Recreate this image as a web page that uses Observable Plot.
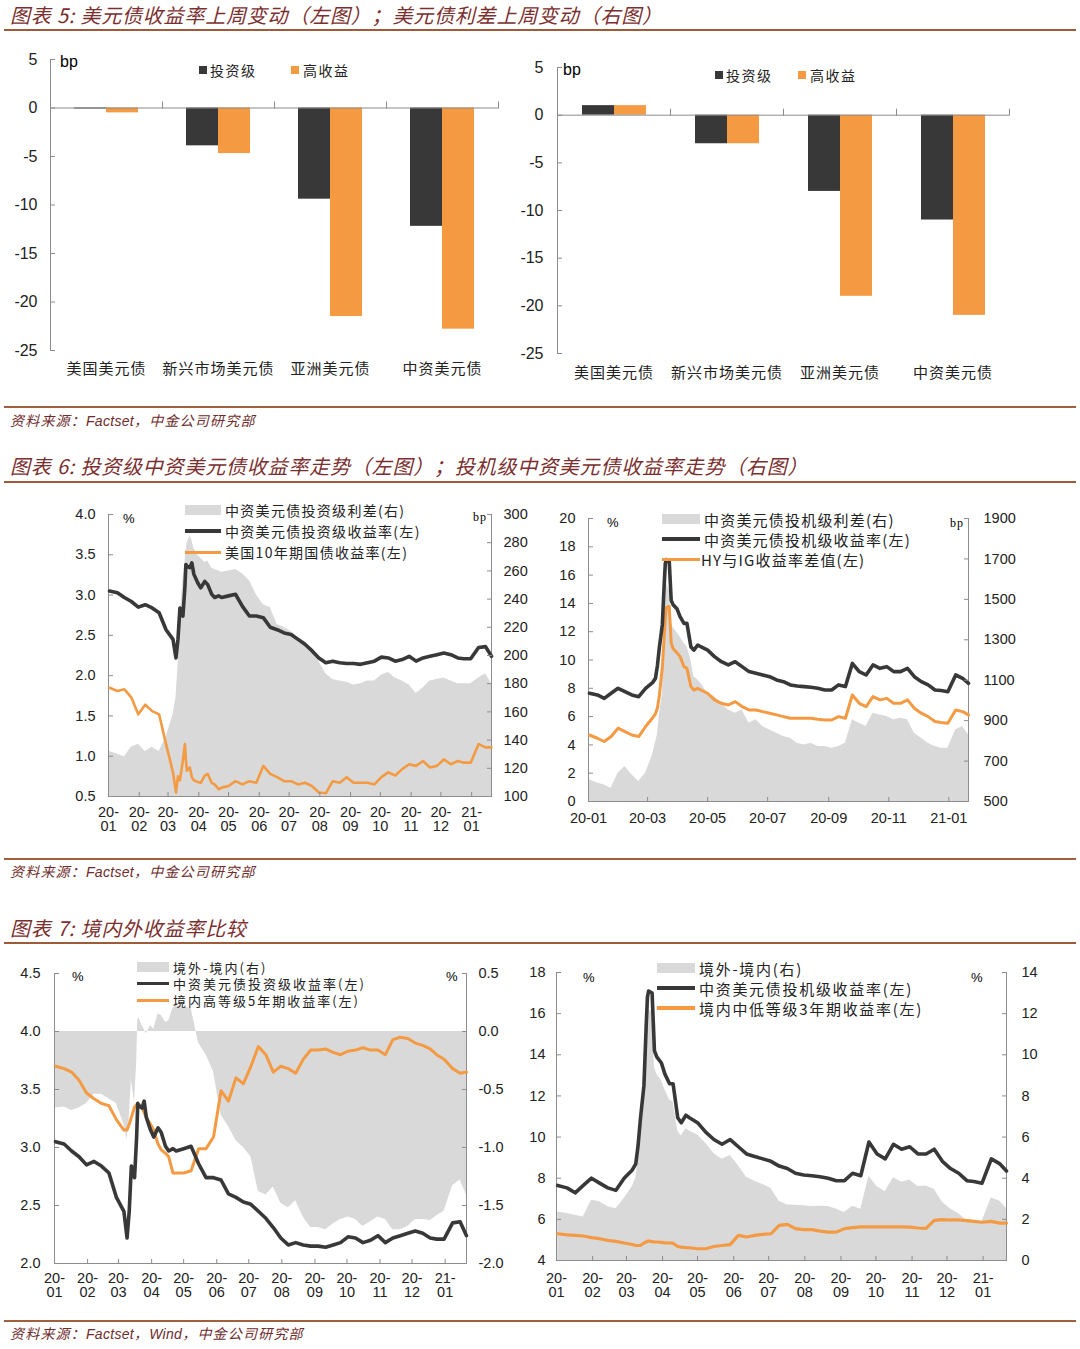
<!DOCTYPE html>
<html><head><meta charset="utf-8">
<script src="https://cdn.jsdelivr.net/npm/d3@7"></script>
<script src="https://cdn.jsdelivr.net/npm/@observablehq/plot@0.6"></script>
<style>
html,body{margin:0;padding:0;background:#fff}
#page{position:relative;width:1080px;height:1349px;overflow:hidden;font-family:"Liberation Sans",Arial,sans-serif}
.a{position:absolute;white-space:nowrap;line-height:1}
.hdr{font-family:"Noto Sans CJK SC",sans-serif;font-style:italic;color:#7b2f2f;letter-spacing:0.8px}
.src{font-family:"Noto Sans CJK SC",sans-serif;font-style:italic;color:#6e2c2c;letter-spacing:1.2px}
.lat{font-family:"Liberation Sans",Arial,sans-serif;font-style:italic;letter-spacing:0.3px}
.lg{font-family:"Noto Sans CJK SC",sans-serif;color:#222}
svg [aria-label="fx-axis tick label"] text{letter-spacing:1px}
</style></head><body><div id="page"></div>
<script>
// ---------- data ----------
const cats = ["美国美元债", "新兴市场美元债", "亚洲美元债", "中资美元债"];
const seriesNames = ["投资级", "高收益"];
const yieldChgIG = [-0.1, -3.9, -9.4, -12.2];
const yieldChgHY = [-0.5, -4.7, -21.5, -22.8];
const spreadChgIG = [1, -3, -8, -11];
const spreadChgHY = [1, -3, -19, -21];
const barTicks = [5, 0, -5, -10, -15, -20, -25];

const dates = ["2020-01-02","2020-01-10","2020-01-17","2020-01-24","2020-01-31","2020-02-07","2020-02-14","2020-02-21","2020-02-28","2020-03-06","2020-03-09","2020-03-11","2020-03-13","2020-03-16","2020-03-18","2020-03-19","2020-03-20","2020-03-23","2020-03-25","2020-03-27","2020-03-31","2020-04-03","2020-04-07","2020-04-10","2020-04-14","2020-04-17","2020-04-21","2020-04-24","2020-05-01","2020-05-08","2020-05-15","2020-05-22","2020-05-29","2020-06-05","2020-06-12","2020-06-19","2020-06-26","2020-07-03","2020-07-10","2020-07-17","2020-07-24","2020-07-31","2020-08-07","2020-08-14","2020-08-21","2020-08-28","2020-09-04","2020-09-11","2020-09-18","2020-09-25","2020-10-02","2020-10-09","2020-10-16","2020-10-23","2020-10-30","2020-11-06","2020-11-13","2020-11-20","2020-11-27","2020-12-04","2020-12-11","2020-12-18","2020-12-24","2020-12-31","2021-01-08","2021-01-15","2021-01-21"];

// 中资美元债投资级收益率 (%)
const igYield = [3.05,3.03,2.97,2.92,2.85,2.88,2.84,2.78,2.57,2.45, 2.22,2.45,2.84,2.74,3.10,3.38,3.36,3.34,3.40,3.26, 3.15,3.09,3.17,3.13,3.01,2.97,2.99,2.97,2.99,3.01, 2.86,2.74,2.74,2.72,2.60,2.57,2.53,2.51,2.45,2.39, 2.31,2.22,2.16,2.18,2.16,2.15,2.15,2.14,2.16,2.18, 2.23,2.22,2.18,2.20,2.24,2.18,2.22,2.24,2.26,2.28, 2.26,2.22,2.21,2.21,2.35,2.36,2.24];
// 美国10年期国债收益率 (%)
const ust10y = [1.85,1.81,1.83,1.73,1.52,1.64,1.56,1.52,1.15,0.80, 0.55,0.75,0.70,0.95,1.15,0.95,0.82,0.86,0.74,0.70, 0.68,0.67,0.76,0.78,0.67,0.65,0.59,0.61,0.63,0.69, 0.65,0.69,0.67,0.88,0.78,0.74,0.69,0.69,0.65,0.67, 0.63,0.55,0.54,0.69,0.67,0.74,0.67,0.67,0.67,0.65, 0.74,0.80,0.76,0.84,0.90,0.88,0.94,0.86,0.88,0.96, 0.90,0.94,0.92,0.92,1.15,1.11,1.11];
// 中资美元债投资级利差 (bp)
const igSpread = [132,130,128,135,137,132,135,132,142,158, 170,192,225,253,265,273,279,285,282,276, 271,269,266,267,262,261,260,259,260,261, 258,253,243,236,234,222,220,217,213,210, 204,196,187,183,182,181,179,180,182,182, 186,188,184,182,179,173,177,182,183,184, 182,180,180,180,184,187,180];
// 中资美元债投机级收益率 (%)
const hyYield = [7.65,7.53,7.29,7.65,8.00,7.76,7.53,7.41,8.00,8.40, 8.70,9.60,10.90,12.50,15.50,16.80,17.10,17.00,14.20,13.90, 13.60,13.06,12.59,12.59,10.94,10.70,11.06,10.94,10.70,10.24, 9.88,9.65,9.88,9.53,9.18,9.06,8.94,8.82,8.59,8.47, 8.24,8.16,8.12,8.07,8.00,7.88,7.88,8.24,8.12,9.76, 9.18,8.94,9.65,9.41,9.53,9.18,9.18,9.41,8.82,8.47, 8.24,7.88,7.84,7.76,8.94,8.71,8.35];
// HY与IG收益率差值 (%)
const hyIgDiff = [4.70,4.47,4.24,4.59,5.18,4.94,4.70,4.59,5.30,5.90, 6.20,6.60,7.50,9.50,11.80,13.00,13.70,13.80,11.20,10.80, 10.50,10.24,9.53,9.41,8.12,7.88,8.00,7.88,7.65,7.18, 6.94,6.82,7.06,6.71,6.47,6.47,6.35,6.24,6.12,6.00, 5.88,5.88,5.88,5.88,5.81,5.76,5.76,6.00,5.88,7.53, 6.94,6.71,7.41,7.18,7.29,6.94,6.94,7.18,6.59,6.24, 6.00,5.65,5.58,5.53,6.47,6.35,6.12];
// 中资美元债投机级利差 (bp)
const hySpread = [607,591,582,566,640,673,632,599,640,730, 790,830,930,1030,1300,1450,1580,1540,1390,1360, 1335,1315,1282,1266,1200,1118,1101,1085,1035,1019, 986,953,937,953,887,904,871,854,838,821, 813,788,780,788,772,772,764,772,788,904, 887,871,937,928,920,904,912,904,838,813, 788,772,764,764,854,871,830];
// 境内高等级5年期收益率 (%)
const onshoreHigh5y = [3.70,3.68,3.65,3.58,3.47,3.42,3.38,3.36,3.24,3.15, 3.15,3.20,3.26,3.35,3.37,3.38,3.37,3.35,3.30,3.26, 3.20,3.15,3.03,2.98,2.95,2.92,2.78,2.78,2.78,2.80, 2.99,2.99,3.09,3.49,3.40,3.60,3.55,3.70,3.87,3.80, 3.65,3.70,3.68,3.64,3.76,3.84,3.84,3.85,3.82,3.80, 3.83,3.84,3.86,3.84,3.84,3.80,3.93,3.95,3.94,3.90, 3.88,3.85,3.80,3.76,3.68,3.64,3.65];
// 境外-境内 (投资级, %)
const igOffOnDiff = [-0.66,-0.65,-0.68,-0.66,-0.62,-0.54,-0.54,-0.58,-0.62,-0.80, -0.93,-0.75,-0.42,-0.61,-0.27,0.10,0.12,0.05,0.02,-0.02, 0.05,0.02,0.15,0.14,0.08,0.09,0.20,0.22,0.21,0.20, -0.10,-0.20,-0.35,-0.72,-0.82,-0.94,-1.00,-1.08,-1.38,-1.41, -1.34,-1.48,-1.52,-1.46,-1.60,-1.69,-1.69,-1.71,-1.66,-1.62, -1.60,-1.62,-1.68,-1.64,-1.60,-1.62,-1.71,-1.71,-1.68,-1.62, -1.62,-1.63,-1.59,-1.55,-1.33,-1.28,-1.41];
// 境内中低等级3年期收益率 (%)
const onshoreLow3y = [5.30,5.25,5.22,5.19,5.11,5.06,4.98,4.93,4.85,4.78, 4.73,4.73,4.73,4.85,4.90,4.93,4.95,4.92,4.90,4.90, 4.88,4.86,4.85,4.84,4.68,4.65,4.63,4.62,4.57,4.57, 4.68,4.73,4.77,5.22,5.14,5.22,5.27,5.30,5.71,5.76, 5.55,5.50,5.50,5.43,5.38,5.38,5.55,5.60,5.63,5.63, 5.63,5.63,5.63,5.63,5.62,5.58,5.56,5.95,5.99,5.97, 5.97,5.94,5.90,5.86,5.90,5.82,5.82];
// 境外-境内 (投机级, %)
const hyOffOnDiff = [2.36,2.28,2.20,2.12,2.93,2.85,2.61,2.52,3.01,3.58, 4.00,4.90,6.10,7.60,10.50,11.90,12.20,12.05,9.40,9.05, 8.75,8.30,7.80,7.70,6.30,6.05,6.40,6.30,6.10,5.70, 5.20,4.92,5.10,4.60,4.05,3.85,3.70,3.50,2.88,2.70, 2.69,2.66,2.62,2.64,2.62,2.50,2.33,2.64,2.49,4.10, 3.58,3.35,4.02,3.80,3.91,3.60,3.62,3.46,2.83,2.50, 2.27,1.94,1.94,1.90,3.04,2.89,2.53];

const monthTicks = ["2020-01-01","2020-02-01","2020-03-01","2020-04-01","2020-05-01","2020-06-01","2020-07-01","2020-08-01","2020-09-01","2020-10-01","2020-11-01","2020-12-01","2021-01-01"];
const biMonthTicks = ["2020-01-01","2020-03-01","2020-05-01","2020-07-01","2020-09-01","2020-11-01","2021-01-01"];
const xStart = "2020-01-01", xEnd = "2021-01-21";

// ---------- helpers ----------
const page = document.getElementById("page");
const parse = d3.utcParse("%Y-%m-%d");
const AX = "#8c8c8c";
const DARK = "#383838", ORANGE = "#f39a43", GRAY = "#d9d9d9";
const S = {fontFamily: '"Liberation Sans", Arial, sans-serif', fontSize: "14.5px", color: "#222", background: "transparent", overflow: "visible"};

function place(node, left, top) {
  node.style.position = "absolute"; node.style.left = left + "px"; node.style.top = top + "px";
  page.appendChild(node);
}
function txt(html, left, cy, size, cls = "", css = "") {
  const d = document.createElement("div");
  d.className = "a " + cls;
  d.innerHTML = html;
  d.style.cssText += `left:${left}px;top:${cy - size / 2}px;font-size:${size}px;${css}`;
  page.appendChild(d);
  return d;
}
function box(left, top, w, h, color) {
  const d = document.createElement("div");
  d.style.cssText = `position:absolute;left:${left}px;top:${top}px;width:${w}px;height:${h}px;background:${color}`;
  page.appendChild(d);
}

function barChart(c) {
  const rows = [];
  cats.forEach((cat, i) => {
    rows.push({cat, s: seriesNames[0], v: c.ig[i]});
    rows.push({cat, s: seriesNames[1], v: c.hy[i]});
  });
  const yDom = [-25, 5];
  const innerH = c.h - c.mT - c.mB;
  const zeroOff = innerH * (yDom[1] - 0) / (yDom[1] - yDom[0]);
  return Plot.plot({
    width: c.w, height: c.h, marginLeft: c.mL, marginRight: c.mR, marginTop: c.mT, marginBottom: c.mB,
    fx: {domain: cats, padding: 0, axis: null, label: null},
    x: {domain: seriesNames, paddingInner: 0, paddingOuter: 0.75, axis: null},
    y: {domain: yDom, axis: null},
    color: {domain: seriesNames, range: [DARK, ORANGE]},
    style: {...S, fontSize: "16px"},
    marks: [
      Plot.barY(rows, {fx: "cat", x: "s", y1: 0, y2: "v", fill: "s"}),
      Plot.ruleY([0], {stroke: AX}),
      Plot.frame({anchor: "right", stroke: AX, insetTop: zeroOff - 6, insetBottom: innerH - zeroOff}),
      Plot.frame({anchor: "left", stroke: AX, facetAnchor: "left"}),
      Plot.axisY({anchor: "left", ticks: barTicks, tickFormat: d => String(d), tickSize: -5, tickPadding: c.padL, stroke: AX, fill: "#222", label: null}),
      Plot.axisFx({anchor: "bottom", tickSize: 0, tickPadding: c.padX, fontFamily: '"Noto Sans CJK SC", sans-serif', fontSize: 15, fill: "#222", label: null})
    ]
  });
}

function lineChart(c) {
  const xDom = [parse(xStart), parse(xEnd)];
  const rows = dates.map((d, i) => {
    const r = {date: parse(d), area: c.area[i]};
    c.lines.forEach((l, j) => r["l" + j] = l.values[i]);
    return r;
  });
  const marks = [
    Plot.areaY(rows, {x: "date", y1: c.base, y2: d => c.toL(d.area), fill: GRAY}),
    Plot.ruleY([c.yDom[0]], {stroke: AX}),
    Plot.ruleX(xDom, {stroke: AX})
  ];
  c.lines.forEach((l, j) => marks.push(Plot.line(rows, {x: "date", y: "l" + j, stroke: l.color, strokeWidth: l.width})));
  marks.push(
    Plot.axisY({anchor: "left", ticks: c.yTicks, tickFormat: c.yFmt, tickSize: -5, tickPadding: c.padL, stroke: AX, fill: "#222", label: null}),
    Plot.axisY({anchor: "right", ticks: c.rTicks.map(c.toL), tickFormat: v => c.rFmt(c.fromL(v)), tickSize: -5, tickPadding: c.padR, stroke: AX, fill: "#222", label: null}),
    Plot.axisX({anchor: "bottom", ticks: c.xTicks.map(parse), tickFormat: c.xFmt, tickSize: -4, tickPadding: c.padX, stroke: AX, fill: "#222", label: null})
  );
  return Plot.plot({
    width: c.w, height: c.h, marginLeft: c.mL, marginRight: c.mR, marginTop: c.mT, marginBottom: c.mB,
    x: {type: "utc", domain: xDom}, y: {domain: c.yDom}, style: S, marks
  });
}

const fmt2 = d3.utcFormat("%y-\n%m");
const fmt1 = d3.utcFormat("%y-%m");

// ---------- headers / sources ----------
function hline(top, h, color) { box(4, top, 1072, h, color); }
txt("图表 5: 美元债收益率上周变动（左图）；美元债利差上周变动（右图）", 10, 15, 20, "hdr");
hline(29, 2, "#9d5b37");
hline(406, 1.5, "#a0603c");
txt('资料来源：<span class="lat">Factset</span>，中金公司研究部', 10, 420, 14, "src");
txt("图表 6: 投资级中资美元债收益率走势（左图）；投机级中资美元债收益率走势（右图）", 10, 466, 20, "hdr");
hline(481, 2, "#9d5b37");
hline(858, 1.5, "#a0603c");
txt('资料来源：<span class="lat">Factset</span>，中金公司研究部', 10, 871, 14, "src");
txt("图表 7: 境内外收益率比较", 10, 928, 20, "hdr");
hline(942, 2, "#9d5b37");
hline(1320, 1.5, "#a0603c");
txt('资料来源：<span class="lat">Factset</span>，<span class="lat">Wind</span>，中金公司研究部', 10, 1333, 14, "src");

// ---------- chart 1 & 2: bars ----------
place(barChart({ig: yieldChgIG, hy: yieldChgHY, w: 540, h: 360, mL: 50, mR: 42, mT: 19, mB: 50, padL: 18, padX: 13}), 0, 40);
place(barChart({ig: spreadChgIG, hy: spreadChgHY, w: 580, h: 360, mL: 55, mR: 70, mT: 27, mB: 47, padL: 19, padX: 14}), 500, 40);
txt("bp", 60, 62, 16);
txt("bp", 563, 70, 16);
function barLegend(x1, x2, cy) {
  box(x1, cy - 4, 8, 8, DARK); txt(seriesNames[0], x1 + 11, cy, 14, "lg", "letter-spacing:1.5px");
  box(x2, cy - 4, 8, 8, ORANGE); txt(seriesNames[1], x2 + 12, cy, 14, "lg", "letter-spacing:1.5px");
}
barLegend(199, 291, 70);
barLegend(715, 798, 75);

function lineLegend(x, wSw, textX, items, size, spacing) {
  items.forEach(it => {
    if (it.type === "area") box(x, it.cy - 5, wSw, 10, GRAY);
    else if (it.type === "line") box(x, it.cy - it.w / 2, wSw, it.w, it.color);
    txt(it.label, textX, it.cy, size, "lg", `letter-spacing:${spacing}px`);
  });
}

// ---------- chart 3 ----------
const to3 = v => 0.5 + (v - 100) * 3.5 / 200;
const from3 = v => Math.round(100 + (v - 0.5) * 200 / 3.5);
place(lineChart({
  w: 540, h: 345, mL: 108, mR: 49, mT: 19, mB: 44,
  yDom: [0.5, 4.0], yTicks: [0.5, 1, 1.5, 2, 2.5, 3, 3.5, 4], yFmt: d => d.toFixed(1),
  rTicks: [100, 120, 140, 160, 180, 200, 220, 240, 260, 280, 300], toL: to3, fromL: from3, rFmt: d => String(d),
  area: igSpread, base: to3(100),
  lines: [{values: ust10y, color: ORANGE, width: 2.6}, {values: igYield, color: DARK, width: 3.6}],
  xTicks: monthTicks, xFmt: fmt2, padL: 18, padR: 17, padX: 14
}), 0, 495);
txt("%", 123, 518, 13);
txt("bp", 473, 517, 12, "", "font-family:'Liberation Serif';letter-spacing:1px");
lineLegend(185, 36, 225, [
  {type: "area", cy: 510, label: "中资美元债投资级利差(右)"},
  {type: "line", cy: 531, w: 3.5, color: DARK, label: "中资美元债投资级收益率(左)"},
  {type: "line", cy: 552, w: 3, color: ORANGE, label: "美国10年期国债收益率(左)"}
], 14, 1.3);

// ---------- chart 4 ----------
const to4 = v => (v - 500) / 70;
const from4 = v => Math.round(500 + v * 70);
place(lineChart({
  w: 540, h: 345, mL: 48, mR: 112, mT: 23, mB: 39,
  yDom: [0, 20], yTicks: [0, 2, 4, 6, 8, 10, 12, 14, 16, 18, 20], yFmt: d => String(d),
  rTicks: [500, 700, 900, 1100, 1300, 1500, 1700, 1900], toL: to4, fromL: from4, rFmt: d => String(d),
  area: hySpread, base: to4(500),
  lines: [{values: hyIgDiff, color: ORANGE, width: 3}, {values: hyYield, color: DARK, width: 3.6}],
  xTicks: biMonthTicks, xFmt: fmt1, padL: 18, padR: 20, padX: 15
}), 540, 495);
txt("%", 607, 522, 13);
txt("bp", 950, 523, 12, "", "font-family:'Liberation Serif';letter-spacing:1px");
lineLegend(662, 38, 704, [
  {type: "area", cy: 519, label: "中资美元债投机级利差(右)"},
  {type: "line", cy: 539, w: 3.5, color: DARK, label: "中资美元债投机级收益率(左)"}
], 15, 1.2);
box(662, 557.5, 38, 3, ORANGE);
txt("HY与IG收益率差值(左)", 701, 559, 15, "lg", "letter-spacing:1.2px");

// ---------- chart 5 ----------
const to5 = v => 4 + v;
const from5 = v => v - 4;
place(lineChart({
  w: 520, h: 355, mL: 54, mR: 54, mT: 18, mB: 47,
  yDom: [2.0, 4.5], yTicks: [2.0, 2.5, 3.0, 3.5, 4.0, 4.5], yFmt: d => d.toFixed(1),
  rTicks: [-2.0, -1.5, -1.0, -0.5, 0.0, 0.5], toL: to5, fromL: from5, rFmt: d => (Math.abs(d) < 1e-9 ? 0 : d).toFixed(1),
  area: igOffOnDiff, base: to5(0),
  lines: [{values: onshoreHigh5y, color: ORANGE, width: 3}, {values: igYield, color: DARK, width: 3.6}],
  xTicks: monthTicks, xFmt: fmt2, padL: 19, padR: 17, padX: 13
}), 0, 955);
txt("%", 72, 976, 13);
txt("%", 446, 976, 13);
lineLegend(137, 32, 173, [
  {type: "area", cy: 967, label: "境外-境内(右)"},
  {type: "line", cy: 983.5, w: 3.5, color: DARK, label: "中资美元债投资级收益率(左)"},
  {type: "line", cy: 1000, w: 3, color: ORANGE, label: "境内高等级5年期收益率(左)"}
], 13, 2);

// ---------- chart 6 ----------
const to6 = v => 4 + v;
const from6 = v => Math.round(v - 4);
place(lineChart({
  w: 560, h: 355, mL: 36, mR: 74, mT: 17, mB: 50,
  yDom: [4, 18], yTicks: [4, 6, 8, 10, 12, 14, 16, 18], yFmt: d => String(d),
  rTicks: [0, 2, 4, 6, 8, 10, 12, 14], toL: to6, fromL: from6, rFmt: d => String(d),
  area: hyOffOnDiff, base: to6(0),
  lines: [{values: onshoreLow3y, color: ORANGE, width: 3.2}, {values: hyYield, color: DARK, width: 3.6}],
  xTicks: monthTicks, xFmt: fmt2, padL: 16, padR: 20, padX: 16
}), 520, 955);
txt("%", 583, 977, 13);
txt("%", 971, 977, 13);
lineLegend(657, 38, 699, [
  {type: "area", cy: 968, label: "境外-境内(右)"},
  {type: "line", cy: 988, w: 3.5, color: DARK, label: "中资美元债投机级收益率(左)"},
  {type: "line", cy: 1008, w: 3.2, color: ORANGE, label: "境内中低等级3年期收益率(左)"}
], 15, 1.7);
</script></body></html>
